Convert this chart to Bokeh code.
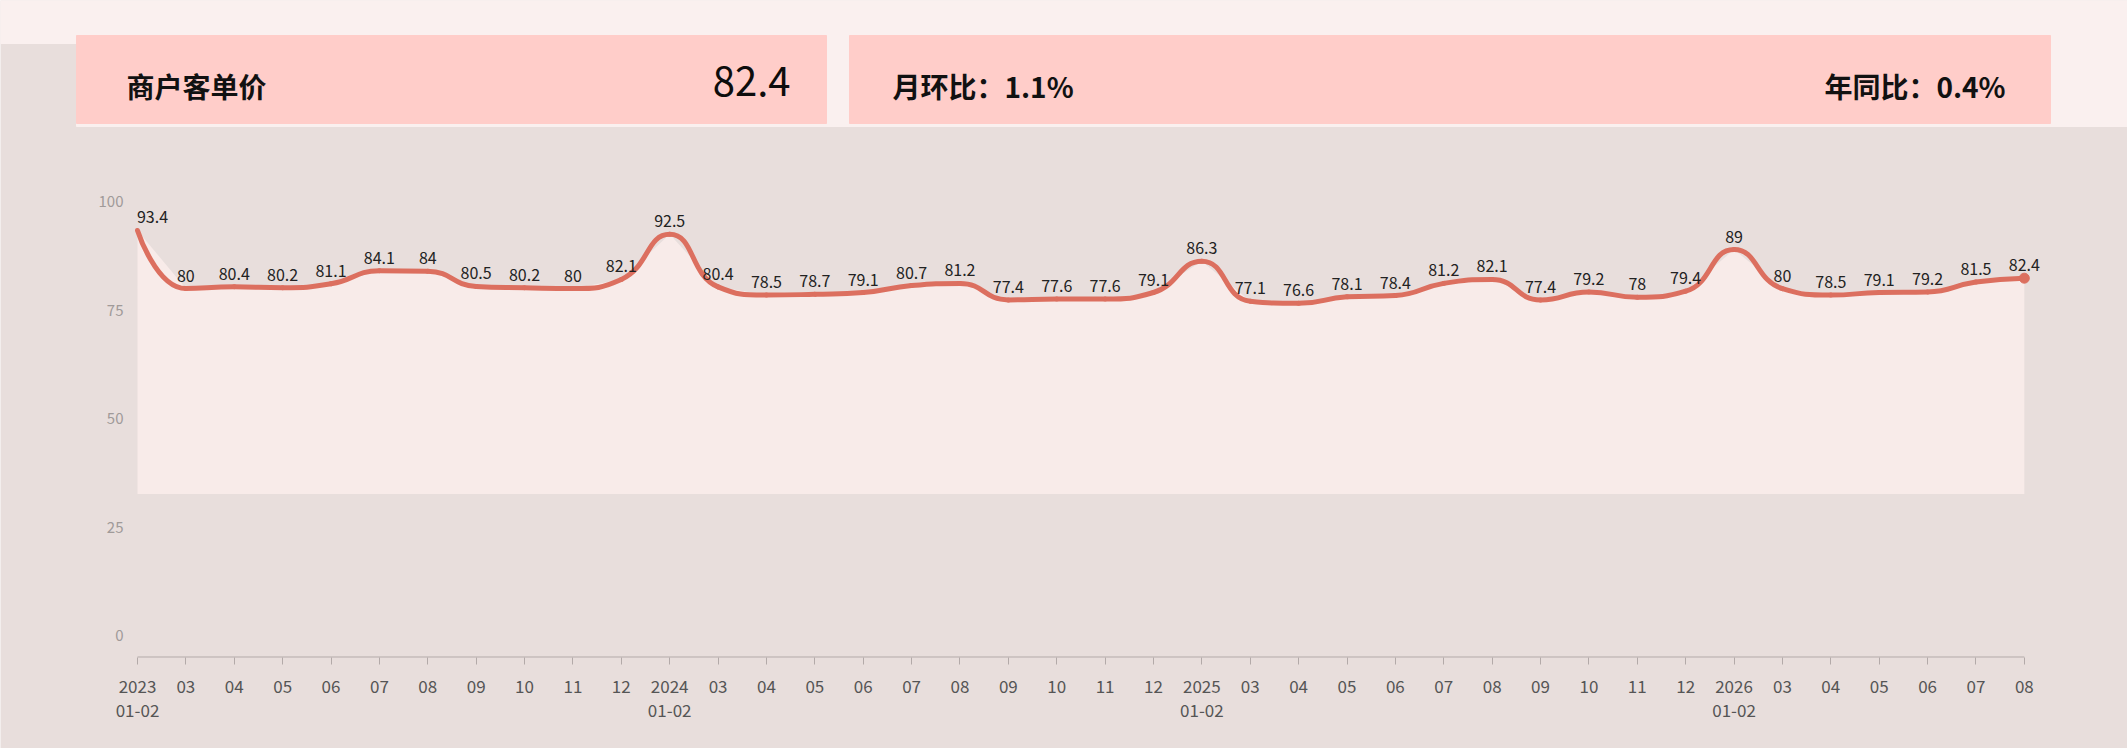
from bokeh.plotting import figure
from bokeh.models import ColumnDataSource, LabelSet, FixedTicker, Range1d
from bokeh.core.properties import value
from bokeh.embed import file_html
from bokeh.resources import INLINE

# data
period_labels = [
    "2023\n01-02", "03", "04", "05", "06", "07", "08", "09", "10", "11", "12",
    "2024\n01-02", "03", "04", "05", "06", "07", "08", "09", "10", "11", "12",
    "2025\n01-02", "03", "04", "05", "06", "07", "08", "09", "10", "11", "12",
    "2026\n01-02", "03", "04", "05", "06", "07", "08",
]
avg_price = [
    93.4, 80, 80.4, 80.2, 81.1, 84.1, 84, 80.5, 80.2, 80, 82.1,
    92.5, 80.4, 78.5, 78.7, 79.1, 80.7, 81.2, 77.4, 77.6, 77.6, 79.1,
    86.3, 77.1, 76.6, 78.1, 78.4, 81.2, 82.1, 77.4, 79.2, 78, 79.4,
    89, 80, 78.5, 79.1, 79.2, 81.5, 82.4,
]
y_ticks = [0, 25, 50, 75, 100]

kpi_title = "商户客单价"
kpi_value = "82.4"
mom_text = "月环比：1.1%"
yoy_text = "年同比：0.4%"

FONT = "Noto Sans CJK SC"
BG = "#e8dedc"
LIGHT = "#faf0ef"
CARD = "#ffcdc9"
FILL = "#f8ebe9"
LINE = "#dc6f5f"
TICK = "#b3aaa9"

W, H = 2127, 748
AXIS_PX = 657              # page px of the x axis line
X0_PX, DX = 137.0, 48.38   # page px of first category, px per category
Y0_PX, DY = 635.3, 4.34    # page px of value 0, px per unit

n = len(avg_price)
idx = list(range(n))

# the frame covers the whole page; both axes are pinned with fixed_location
p = figure(width=W, height=H,
           x_range=Range1d(-X0_PX / DX, (W - X0_PX) / DX),
           y_range=Range1d(-(H - Y0_PX) / DY, Y0_PX / DY),
           output_backend="svg", toolbar_location=None, min_border=0,
           background_fill_color=BG, border_fill_color=BG, outline_line_color=None)
p.grid.visible = False
# page-pixel ranges for the header block
p.extra_x_ranges = {"px": Range1d(0, W)}
p.extra_y_ranges = {"px": Range1d(H, 0)}

# ---- header with the KPI cards
p.quad(left=[0, 76], right=[W, W], top=[0, 43], bottom=[43, 126], color=LIGHT,
       x_range_name="px", y_range_name="px")
p.quad(left=[76, 849], right=[826, 2050], top=[35, 35], bottom=[123, 123], color=CARD,
       x_range_name="px", y_range_name="px")

p.text(x=[126], y=[85], text=[kpi_title], text_font=value(FONT), text_font_size="28px",
       text_font_style="bold", text_baseline="middle", text_color="#111111",
       x_range_name="px", y_range_name="px")
p.text(x=[790], y=[81], text=[kpi_value], text_font=value(FONT), text_font_size="40px",
       text_align="right", text_baseline="middle", text_color="#0d0d0d",
       x_range_name="px", y_range_name="px")
p.text(x=[892], y=[85], text=[mom_text], text_font=value(FONT), text_font_size="28px",
       text_font_style="bold", text_baseline="middle", text_color="#111111",
       x_range_name="px", y_range_name="px")
p.text(x=[2005], y=[85], text=[yoy_text], text_font=value(FONT), text_font_size="28px",
       text_font_style="bold", text_align="right", text_baseline="middle", text_color="#111111",
       x_range_name="px", y_range_name="px")

# ---- axes
p.xaxis.fixed_location = -(AXIS_PX - Y0_PX) / DY
p.xaxis.ticker = FixedTicker(ticks=idx)
p.xaxis.major_label_overrides = {i: lab for i, lab in enumerate(period_labels)}
p.xaxis.axis_line_color = None
p.xaxis.major_tick_out = 7
p.xaxis.major_tick_in = 0
p.xaxis.major_tick_line_color = TICK
p.xaxis.minor_tick_line_color = None
p.xaxis.major_label_standoff = 8
p.xaxis.major_label_text_font = FONT
p.xaxis.major_label_text_font_size = "17px"
p.xaxis.major_label_text_line_height = 0.98
p.xaxis.major_label_text_color = "#555555"

p.yaxis.fixed_location = (125 - X0_PX) / DX
p.yaxis.ticker = FixedTicker(ticks=y_ticks)
p.yaxis.axis_line_color = None
p.yaxis.major_tick_line_color = None
p.yaxis.minor_tick_line_color = None
p.yaxis.major_tick_out = 0
p.yaxis.major_label_standoff = 2
p.yaxis.major_label_text_font = FONT
p.yaxis.major_label_text_font_size = "15px"
p.yaxis.major_label_text_color = "#a09a99"

# area under the line
fill_base = 32.7
p.varea(x=idx, y1=[fill_base] * n, y2=avg_price, fill_color=FILL)

# axis baseline between first and last category
base_y = -(AXIS_PX - 0.5 - Y0_PX) / DY
p.segment(x0=[idx[0]], y0=[base_y], x1=[idx[-1]], y1=[base_y], line_color=TICK, line_width=1)

# smoothed line, same control-point rule as echarts (smooth = 0.5), done in pixel space
P = [(i * DX, v * DY) for i, v in zip(idx, avg_price)]
smooth = 0.5
segs = {k: [] for k in ("x0", "y0", "x1", "y1", "cx0", "cy0", "cx1", "cy1")}
cp0 = P[0]
for k in range(1, n):
    px, py = P[k - 1]
    x, y = P[k]
    if k == n - 1:
        cp1 = (x, y)
        nxt_cp0 = (x, y)
    else:
        nx, ny = P[k + 1]
        vx, vy = nx - px, ny - py
        len_prev = ((x - px) ** 2 + (y - py) ** 2) ** 0.5
        len_next = ((nx - x) ** 2 + (ny - y) ** 2) ** 0.5
        r = len_next / (len_next + len_prev)
        ncx = x + vx * smooth * r
        ncy = y + vy * smooth * r
        ncx = max(min(ncx, max(nx, x)), min(nx, x))
        ncy = max(min(ncy, max(ny, y)), min(ny, y))
        vx, vy = ncx - x, ncy - y
        c1x = x - vx * len_prev / len_next
        c1y = y - vy * len_prev / len_next
        c1x = max(min(c1x, max(px, x)), min(px, x))
        c1y = max(min(c1y, max(py, y)), min(py, y))
        vx, vy = x - c1x, y - c1y
        nxt_cp0 = (x + vx * len_next / len_prev, y + vy * len_next / len_prev)
        cp1 = (c1x, c1y)
    segs["x0"].append(px / DX)
    segs["y0"].append(py / DY)
    segs["x1"].append(x / DX)
    segs["y1"].append(y / DY)
    segs["cx0"].append(cp0[0] / DX)
    segs["cy0"].append(cp0[1] / DY)
    segs["cx1"].append(cp1[0] / DX)
    segs["cy1"].append(cp1[1] / DY)
    cp0 = nxt_cp0

p.bezier(x0="x0", y0="y0", x1="x1", y1="y1", cx0="cx0", cy0="cy0", cx1="cx1", cy1="cy1",
         source=ColumnDataSource(segs), line_color=LINE, line_width=5, line_cap="round")

# end point marker
p.scatter(x=[idx[-1]], y=[avg_price[-1]], size=10, fill_color=LINE, line_color=LINE)

# value labels; the first one is nudged right so it stays inside the plot
label_dx = [15] + [0] * (n - 1)
src = ColumnDataSource(dict(x=idx, y=avg_price, dx=label_dx,
                            label=[f"{v:g}" for v in avg_price]))
labels = LabelSet(x="x", y="y", text="label", source=src, text_align="center",
                  text_baseline="bottom", x_offset="dx", y_offset=7, text_font=value(FONT),
                  text_font_size="16px", text_color="#222222")
p.add_layout(labels)

open("out.html", "w").write(file_html(p, INLINE))
